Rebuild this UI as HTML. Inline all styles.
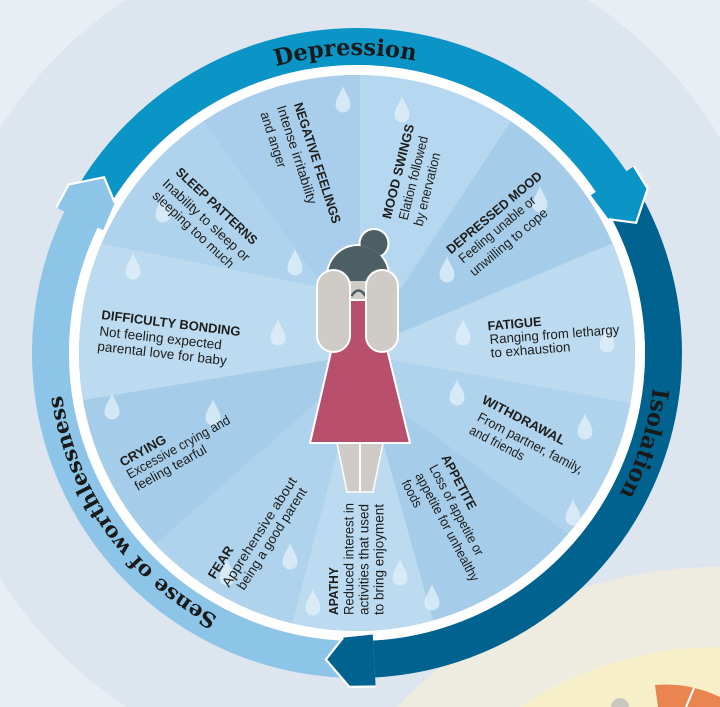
<!DOCTYPE html>
<html><head><meta charset="utf-8">
<style>
html,body{margin:0;padding:0;width:720px;height:707px;overflow:hidden;background:#dde5ee;}
svg{display:block;}
.h{font-family:"Liberation Sans",sans-serif;font-weight:bold;font-size:13px;fill:#1d1d1b;}
.d{font-family:"Liberation Sans",sans-serif;font-size:13.5px;fill:#1d1d1b;}
.r{font-family:"DejaVu Serif","Liberation Serif",serif;font-weight:bold;fill:#1a1a1a;}
</style></head>
<body>
<svg width="720" height="707" viewBox="0 0 720 707" xmlns="http://www.w3.org/2000/svg">
<defs>
<clipPath id="hc"><circle cx="358" cy="276" r="30"/></clipPath>
<path id="dp" d="M0,-14 C1.5,-8 7.5,-2 7.5,5 A7.5,7.5 0 0 1 -7.5,5 C-7.5,-2 -1.5,-8 0,-14 Z"/>
<path id="rp" d="M655,353 A298,298 0 1 1 59,353 A298,298 0 1 1 655,353" fill="none"/>
</defs>

<!-- background -->
<rect width="720" height="707" fill="#dde5ee"/>
<path d="M0,0 L126,0 A422,422 0 0 0 0,128 Z" fill="#e9eef4"/>
<path d="M588,0 L720,0 L720,138 A422,422 0 0 0 588,0 Z" fill="#e9eef4"/>
<path d="M0,578 A422,422 0 0 0 127,707 L0,707 Z" fill="#e9eef4"/>
<path d="M397.4,707 A437,437 0 0 1 720,567 L720,707 Z" fill="#eeece1"/>
<path d="M520,707 A357,357 0 0 1 720,647 L720,707 Z" fill="#f7efc9"/>
<path d="M655,685 Q688,682 720,697 L720,707 L658,707 Z" fill="#ea8550"/>
<line x1="694" y1="688" x2="686" y2="707" stroke="#fff" stroke-width="2"/>
<path d="M611,707 A9,9 0 0 1 629,707 Z" fill="#c9c7c0"/>

<!-- outer bands -->
<path d="M374.11,659.02 A306.5,306.5 0 0 1 81.05,219.60" fill="none" stroke="#8dc5e8" stroke-width="37"/>
<path d="M81.05,219.60 A306.5,306.5 0 0 1 611.10,181.61" fill="none" stroke="#0b94c6" stroke-width="37"/>
<path d="M611.10,181.61 A306.5,306.5 0 0 1 374.11,659.02" fill="none" stroke="#00638f" stroke-width="37"/>

<!-- white ring -->
<circle cx="357" cy="353" r="283" fill="none" stroke="#ffffff" stroke-width="10"/>

<!-- arrow heads -->
<polygon points="103.11,230.27 114.78,202.82 104.09,177.22 68.64,184.49 56.29,207.63" fill="#8dc5e8"/>
<polyline points="56.29,207.63 68.64,184.49 104.09,177.22 114.78,202.82" fill="none" stroke="#fff" stroke-width="2.2"/>
<polygon points="590.79,195.31 608.64,219.20 636.14,222.83 647.70,188.53 633.90,166.23" fill="#0b94c6"/>
<polyline points="633.90,166.23 647.70,188.53 636.14,222.83 608.64,219.20" fill="none" stroke="#fff" stroke-width="2.2"/>
<polygon points="372.74,634.56 343.08,637.66 325.87,659.42 349.42,686.91 375.64,686.48" fill="#00638f"/>
<polyline points="375.64,686.48 349.42,686.91 325.87,659.42 343.08,637.66" fill="none" stroke="#fff" stroke-width="2.2"/>

<!-- ring labels -->
<text class="r" font-size="23"><textPath href="#rp" startOffset="1392" text-anchor="middle" textLength="141" lengthAdjust="spacingAndGlyphs">Depression</textPath></text>
<text class="r" font-size="23"><textPath href="#rp" startOffset="91" text-anchor="middle" textLength="112" lengthAdjust="spacingAndGlyphs">Isolation</textPath></text>
<text class="r" font-size="21"><textPath href="#rp" startOffset="753" text-anchor="middle" textLength="281" lengthAdjust="spacingAndGlyphs">Sense of worthlessness</textPath></text>

<!-- sectors -->
<circle cx="357" cy="353" r="278" fill="#b0d3ed"/>
<path fill="#b5d7ef" d="M360,360 L360,245 L360,75 A278,278 0 0 1 510.8,121.3 L400,290 Z"/>
<path fill="#a5cdea" d="M360,360 L400,290 L510.8,121.3 A278,278 0 0 1 612.4,243.2 L400,333 Z"/>
<path fill="#bddbf0" d="M360,360 L400,333 L612.4,243.2 A278,278 0 0 1 630.5,403.1 L393,360 Z"/>
<path fill="#b0d3ed" d="M360,360 L393,360 L630.5,403.1 A278,278 0 0 1 568.1,533.9 L390,403 Z"/>
<path fill="#a5cdea" d="M360,360 L390,403 L568.1,533.9 A278,278 0 0 1 433,620.5 L383,443 Z"/>
<path fill="#bddbf0" d="M360,360 L383,443 L433,620.5 A278,278 0 0 1 292.2,623.3 L337,453 Z"/>
<path fill="#b0d3ed" d="M360,360 L337,453 L292.2,623.3 A278,278 0 0 1 155.5,544.4 L327,393 Z"/>
<path fill="#a5cdea" d="M360,360 L327,393 L155.5,544.4 A278,278 0 0 1 83,400 L327,360 Z"/>
<path fill="#bddbf0" d="M360,360 L327,360 L83,400 A278,278 0 0 1 101.5,243.6 L320,287 Z"/>
<path fill="#b0d3ed" d="M360,360 L320,287 L101.5,243.6 A278,278 0 0 1 203.2,121.3 L333,300 Z"/>
<path fill="#a8ceeb" d="M360,360 L333,300 L203.2,121.3 A278,278 0 0 1 360,75 L360,245 Z"/>

<!-- drops -->
<g fill="#e3f0f9" opacity="0.75">
<use href="#dp" x="343" y="100"/><use href="#dp" x="402" y="110"/><use href="#dp" x="295" y="263"/>
<use href="#dp" x="133" y="267"/><use href="#dp" x="278" y="333"/><use href="#dp" x="163" y="210"/>
<use href="#dp" x="540" y="200"/><use href="#dp" x="447" y="270"/><use href="#dp" x="463" y="333"/>
<use href="#dp" x="607" y="340"/><use href="#dp" x="112" y="407"/><use href="#dp" x="213" y="413"/>
<use href="#dp" x="290" y="557"/><use href="#dp" x="227" y="573"/><use href="#dp" x="313" y="603"/>
<use href="#dp" x="457" y="393"/><use href="#dp" x="585" y="427"/><use href="#dp" x="573" y="513"/>
<use href="#dp" x="400" y="573"/><use href="#dp" x="432" y="598"/>
</g>

<!-- labels -->
<text class="h" transform="translate(293.7,104.4) rotate(72)" textLength="126" lengthAdjust="spacingAndGlyphs">NEGATIVE FEELINGS</text>
<text class="d" transform="translate(276.7,107.1) rotate(72)" textLength="103" lengthAdjust="spacingAndGlyphs">Intense irritability</text>
<text class="d" transform="translate(260.2,113.6) rotate(72)" textLength="58" lengthAdjust="spacingAndGlyphs">and anger</text>

<text class="h" transform="translate(174.9,173.1) rotate(43)" textLength="106" lengthAdjust="spacingAndGlyphs">SLEEP PATTERNS</text>
<text class="d" transform="translate(161.6,184.6) rotate(43)" textLength="114" lengthAdjust="spacingAndGlyphs">Inability to sleep or</text>
<text class="d" transform="translate(151.6,196.6) rotate(43)" textLength="106" lengthAdjust="spacingAndGlyphs">sleeping too much</text>

<text class="h" transform="translate(390.8,219.5) rotate(-76)" textLength="97" lengthAdjust="spacingAndGlyphs">MOOD SWINGS</text>
<text class="d" transform="translate(407.4,220.8) rotate(-76)" textLength="86" lengthAdjust="spacingAndGlyphs">Elation followed</text>
<text class="d" transform="translate(422.4,226.8) rotate(-76)" textLength="75" lengthAdjust="spacingAndGlyphs">by enervation</text>

<text class="h" transform="translate(451,254.5) rotate(-40)" textLength="120" lengthAdjust="spacingAndGlyphs">DEPRESSED MOOD</text>
<text class="d" transform="translate(463.3,263.7) rotate(-40)" textLength="96" lengthAdjust="spacingAndGlyphs">Feeling unable or</text>
<text class="d" transform="translate(474.3,276.7) rotate(-40)" textLength="97" lengthAdjust="spacingAndGlyphs">unwilling to cope</text>

<text class="h" transform="translate(488,330.5) rotate(-5)" textLength="54" lengthAdjust="spacingAndGlyphs">FATIGUE</text>
<text class="d" transform="translate(490,344) rotate(-4.5)" textLength="130" lengthAdjust="spacingAndGlyphs">Ranging from lethargy</text>
<text class="d" transform="translate(491,357.5) rotate(-4.5)" textLength="80" lengthAdjust="spacingAndGlyphs">to exhaustion</text>

<text class="h" transform="translate(481,402.7) rotate(27.5)" textLength="92" lengthAdjust="spacingAndGlyphs">WITHDRAWAL</text>
<text class="d" transform="translate(476.4,420.1) rotate(27.5)" textLength="117" lengthAdjust="spacingAndGlyphs">From partner, family,</text>
<text class="d" transform="translate(468.4,433.1) rotate(27.5)" textLength="60" lengthAdjust="spacingAndGlyphs">and friends</text>

<text class="h" transform="translate(441.1,457.6) rotate(62)" textLength="60" lengthAdjust="spacingAndGlyphs">APPETITE</text>
<text class="d" transform="translate(428.9,467.6) rotate(62)" textLength="101" lengthAdjust="spacingAndGlyphs">Loss of appetite or</text>
<text class="d" transform="translate(414.9,475.6) rotate(62)" textLength="121" lengthAdjust="spacingAndGlyphs">appetite for unhealthy</text>
<text class="d" transform="translate(401.2,482.9) rotate(62)" textLength="29" lengthAdjust="spacingAndGlyphs">foods</text>

<text class="h" transform="translate(338,615) rotate(-90)" textLength="48" lengthAdjust="spacingAndGlyphs">APATHY</text>
<text class="d" transform="translate(353.5,615) rotate(-90)" textLength="112" lengthAdjust="spacingAndGlyphs">Reduced interest in</text>
<text class="d" transform="translate(368.5,615) rotate(-90)" textLength="111" lengthAdjust="spacingAndGlyphs">activities that used</text>
<text class="d" transform="translate(383.5,615) rotate(-90)" textLength="111" lengthAdjust="spacingAndGlyphs">to bring enjoyment</text>

<text class="h" transform="translate(214.7,579.8) rotate(-57.5)" textLength="36" lengthAdjust="spacingAndGlyphs">FEAR</text>
<text class="d" transform="translate(229,587.9) rotate(-57.5)" textLength="127" lengthAdjust="spacingAndGlyphs">Apprehensive about</text>
<text class="d" transform="translate(244,590.9) rotate(-57.5)" textLength="118" lengthAdjust="spacingAndGlyphs">being a good parent</text>

<text class="h" transform="translate(122.7,466.9) rotate(-29)" textLength="51" lengthAdjust="spacingAndGlyphs">CRYING</text>
<text class="d" transform="translate(129.7,479.1) rotate(-29)" textLength="116" lengthAdjust="spacingAndGlyphs">Excessive crying and</text>
<text class="d" transform="translate(137.7,491.1) rotate(-29)" textLength="80" lengthAdjust="spacingAndGlyphs">feeling tearful</text>

<text class="h" transform="translate(101,319) rotate(7)" textLength="140" lengthAdjust="spacingAndGlyphs">DIFFICULTY BONDING</text>
<text class="d" transform="translate(99,335.5) rotate(6.5)" textLength="123" lengthAdjust="spacingAndGlyphs">Not feeling expected</text>
<text class="d" transform="translate(97,350.5) rotate(6.5)" textLength="130" lengthAdjust="spacingAndGlyphs">parental love for baby</text>

<!-- figure -->
<circle cx="374" cy="243.5" r="15.5" fill="#fff"/>
<circle cx="358" cy="276" r="32" fill="#fff"/>
<circle cx="374" cy="243.5" r="13.5" fill="#4d5f64"/>
<circle cx="358" cy="276" r="30" fill="#cfccc7"/>
<rect x="320" y="240" width="80" height="41" fill="#4d5f64" clip-path="url(#hc)"/>
<path d="M351.5,296 Q358.5,285 365.5,296" stroke="#4d5f64" stroke-width="2.5" fill="none"/>
<polygon points="337,443 383,443 373,492 347,492" fill="#cfccc7" stroke="#fff" stroke-width="1.5"/>
<line x1="360" y1="443" x2="360" y2="492" stroke="#fff" stroke-width="2"/>
<polygon points="343,300 375,300 410,443 310,443" fill="#b8506d" stroke="#fff" stroke-width="2" stroke-linejoin="round"/>
<rect x="317" y="270" width="33" height="82" rx="16.5" fill="#cfccc7" stroke="#fff" stroke-width="2"/>
<rect x="366" y="270" width="32" height="82" rx="16" fill="#cfccc7" stroke="#fff" stroke-width="2"/>
</svg>
</body></html>
